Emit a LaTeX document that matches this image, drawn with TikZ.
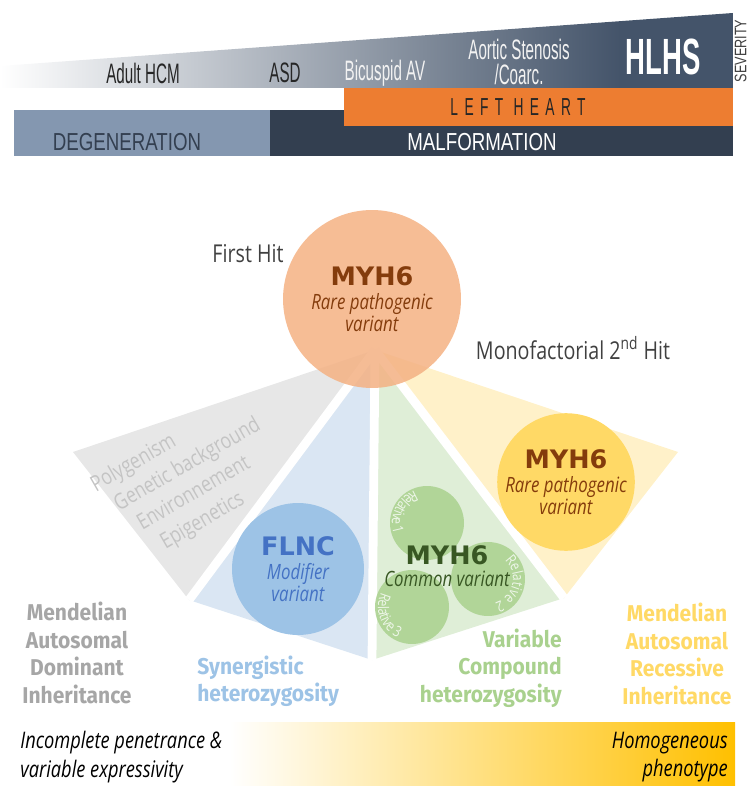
\documentclass[tikz,border=0pt]{standalone}
\usepackage{fontspec}
\setmainfont{Open Sans}
\newfontfamily\narrowfont[FakeStretch=0.54]{Liberation Sans}
\newfontfamily\bandfont[FakeStretch=0.76]{Liberation Sans}
\newfontfamily\spacedfont[FakeStretch=0.56,LetterSpace=26]{Liberation Sans}
\newfontfamily\thinfont[FakeStretch=0.8]{Open Sans}
\newfontfamily\genefont{DejaVu Sans}
\newfontfamily\inhfont[FakeStretch=0.92]{Fira Sans}
\usepackage{xcolor}
\usetikzlibrary{positioning,decorations.text}

\definecolor{sevdark}{HTML}{44546A}
\definecolor{degen}{HTML}{8497B0}
\definecolor{malform}{HTML}{333F50}
\definecolor{leftheart}{HTML}{ED7D31}
\definecolor{peach}{HTML}{F4B183}
\definecolor{genebrown}{HTML}{843C0C}
\definecolor{flncblue}{HTML}{4472C4}
\definecolor{bluecirc}{HTML}{9DC3E6}
\definecolor{greencirc}{HTML}{A9D18E}
\definecolor{genegreen}{HTML}{385723}
\definecolor{yellowcirc}{HTML}{FFD966}
\definecolor{wedgegray}{HTML}{E7E7E7}
\definecolor{wedgeblue}{HTML}{DAE6F3}
\definecolor{wedgegreen}{HTML}{DFEED7}
\definecolor{wedgeyellow}{HTML}{FFF1C9}
\definecolor{graylab}{HTML}{A6A6A6}
\definecolor{greytext}{HTML}{C4C4C4}
\definecolor{gold}{HTML}{FFC000}
\definecolor{hittext}{HTML}{404040}
\definecolor{relwhite}{HTML}{EEF6E9}

\newcommand{\relfont}{\thinfont\fontsize{8.5}{10}\selectfont\color{relwhite}}
\newcommand{\genename}[1]{{\genefont\upshape\bfseries\fontsize{14.5}{17}\selectfont #1}}

\begin{document}
\begin{tikzpicture}[x=0.02cm,y=0.02cm,
    toplab/.style={font=\narrowfont\fontsize{16}{14}\selectfont, inner sep=0pt},
    bandlab/.style={font=\bandfont\fontsize{14}{14}\selectfont, inner sep=0pt},
    hit/.style={font=\thinfont\fontsize{14}{16}\selectfont, text=hittext, inner sep=0pt},
    gene/.style={circle, inner sep=0pt, align=center, font=\thinfont\itshape\fontsize{12}{12.5}\selectfont},
    relcirc/.style={circle, fill=greencirc, fill opacity=0.85, minimum size=1.48cm},
    inh/.style={font=\inhfont\bfseries\fontsize{13}{15.6}\selectfont, inner sep=0pt},
    pheno/.style={font=\thinfont\itshape\fontsize{13}{16.4}\selectfont, inner sep=0pt}]
    \useasboundingbox (0,0) rectangle (748,-786);

    % severity scale
    \begin{scope}
        \clip (0,-66) -- (733,-13) -- (733,-88) -- (0,-88) -- cycle;
        \shade [left color=white, right color=sevdark] (0,-10) rectangle (620,-90);
        \fill [sevdark] (619,-10) rectangle (733,-90);
    \end{scope}
    \node [toplab, text=black!85] (hcm) at (143,-73) {Adult HCM};
    \node [toplab, text=black!85] (asd) at (285,-73) {ASD};
    \node [toplab, text=white!95!black] (bav) at (385,-73) {Bicuspid AV};
    \node [toplab, text=white!95!black, align=center] (as) at (519,-62) {Aortic Stenosis\\/Coarc.};
    \node [toplab, text=white, font=\narrowfont\bfseries\fontsize{29}{29}\selectfont] (hlhs) at (663,-57) {HLHS};
    \node [bandlab, text=hittext, rotate=90, font=\bandfont\fontsize{9.5}{9.5}\selectfont] (sev) at (740.5,-51) {SEVERITY};

    \fill [degen] (14,-110) rectangle (270,-156);
    \fill [malform] (270,-110) rectangle (733,-156);
    \fill [leftheart] (344,-88) rectangle (733,-126);
    \node [bandlab, text=black!85, font=\spacedfont\fontsize{14}{14}\selectfont] (lh) at (518,-107) {LEFT HEART};
    \node [bandlab, text=malform] (degen) at (127,-142) {DEGENERATION};
    \node [bandlab, text=white] (malf) at (482,-142) {MALFORMATION};

    % fan of second hits
    \coordinate (apex) at (375,-350);
    \coordinate (g1) at (73,-452);
    \coordinate (m1) at (189,-600);
    \coordinate (m2) at (372,-660);
    \coordinate (m3) at (564,-598);
    \coordinate (y1) at (678,-452);
    \fill [wedgegray] (apex) -- (g1) -- (m1) -- cycle;
    \fill [wedgeblue] (apex) -- (m1) -- (m2) -- cycle;
    \fill [wedgegreen] (apex) -- (m2) -- (m3) -- cycle;
    \fill [wedgeyellow] (apex) -- (m3) -- (y1) -- cycle;
    \foreach \m in {m1,m2,m3}
        \draw [white, line width=5pt] (apex) -- (\m);

    \node [rotate=30, align=left, text=greytext, font=\thinfont\fontsize{12.5}{16}\selectfont] (poly) at (190,-480)
        {Polygenism\\\hspace*{6pt}Genetic background\\\hspace*{12pt}Environnement\\\hspace*{18pt}Epigenetics};

    \node [gene, fill=bluecirc, minimum size=2.64cm, text=flncblue] (flnc) at (298,-569)
        {\genename{FLNC}\\[1pt]Modifier\\variant};

    \node [relcirc] (rel1) at (427,-523) {};
    \node [relcirc] (rel2) at (488,-579) {};
    \node [relcirc] (rel3) at (412,-607) {};
    \path [decorate, decoration={text along path, text align=center, text={|\relfont|Relative 1}}]
        (rel1) ++(90:0.7cm) arc [start angle=90, end angle=220, radius=0.7cm];
    \path [decorate, decoration={text along path, text align=center, text={|\relfont|Relative 2}}]
        (rel2) ++(52:0.5cm) arc [start angle=52, end angle=-78, radius=0.5cm];
    \path [decorate, decoration={text along path, text align=center, text={|\relfont|Relative 3}}]
        (rel3) ++(135:0.68cm) arc [start angle=135, end angle=265, radius=0.68cm];
    \node [gene, text=genegreen] (common) at (447,-566)
        {\genename{MYH6}\\Common variant};

    \node [gene, fill=yellowcirc, minimum size=2.6cm, text=genebrown] (second) at (566,-482)
        {\genename{MYH6}\\[1pt]Rare pathogenic\\variant};

    % first hit on top
    \node [gene, fill=peach, fill opacity=0.85, text opacity=1, minimum size=3.56cm, text=genebrown] (first) at (372,-299)
        {\genename{MYH6}\\[1pt]Rare pathogenic\\variant};
    \node [hit] (firstlab) at (248,-254) {First Hit};
    \node [hit] (monolab) at (573,-348) {Monofactorial 2\textsuperscript{nd} Hit};

    % inheritance modes
    \node [inh, text=graylab, align=center] (ad) at (77,-653) {Mendelian\\Autosomal\\Dominant\\Inheritance};
    \node [inh, text=bluecirc, align=left, anchor=west] (syn) at (197,-681) {Synergistic\\heterozygosity};
    \node [inh, text=greencirc, align=right, anchor=east] (comp) at (562,-668) {Variable\\Compound\\heterozygosity};
    \node [inh, text=yellowcirc, align=center] (ar) at (677,-654) {Mendelian\\Autosomal\\Recessive\\Inheritance};

    % phenotype band
    \shade [left color=white, right color=gold] (230,-722) rectangle (735,-786);
    \node [pheno, align=left, anchor=west] (incompl) at (20,-757) {Incomplete penetrance \&\\variable expressivity};
    \node [pheno, align=right, anchor=east] (homog) at (728,-757) {Homogeneous\\phenotype};
\end{tikzpicture}
\end{document}
